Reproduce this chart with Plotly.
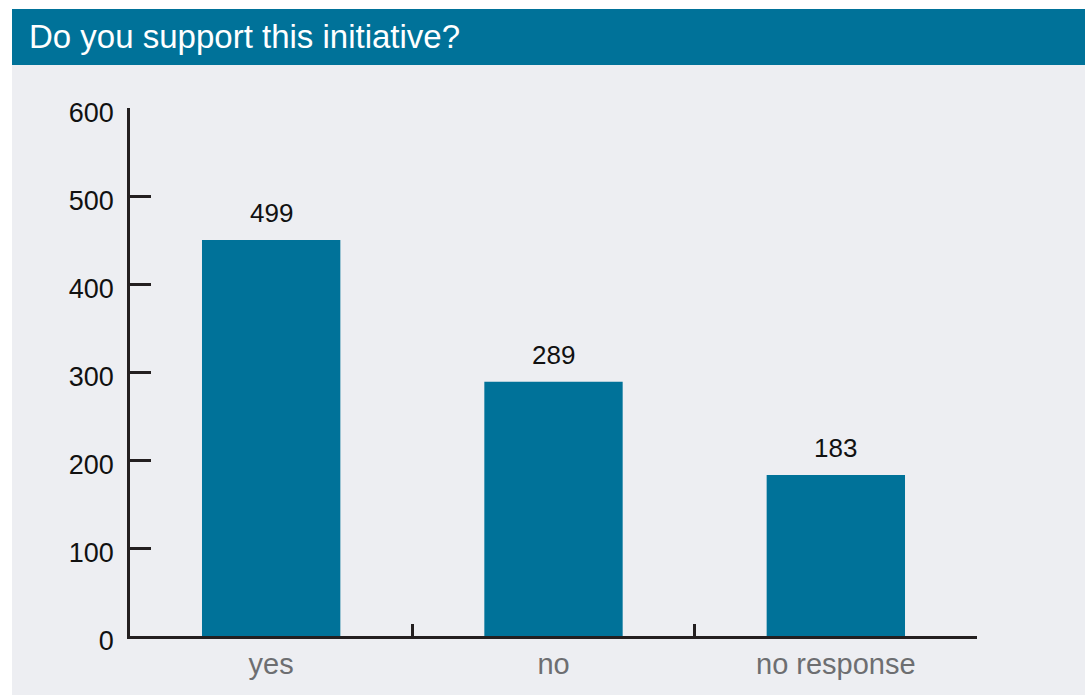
import plotly.graph_objects as go

categories = ["yes", "no", "no response"]
bar_heights = [450, 289, 183]          # heights as drawn in the reference
bar_labels = ["499", "289", "183"]     # value labels printed above the bars
y_ticks = [0, 100, 200, 300, 400, 500, 600]
title_text = "Do you support this initiative?"

BLUE = "#007299"
PANEL = "#EDEEF2"
AXIS = "#231F20"
FONT = "Liberation Sans, Arial, sans-serif"

# figure geometry (pixels)
W, H = 1085, 695
L, R, T, B = 130, 108, 108, 59
pw, ph = W - L - R, H - T - B

def px_x(x):
    return (x - L) / pw

def px_y(y):
    return (H - B - y) / ph

fig = go.Figure()
fig.add_trace(go.Bar(
    x=categories, y=bar_heights, marker=dict(color=BLUE, line=dict(width=0)),
    width=0.49, hoverinfo="skip",
))

for c, v, t in zip(categories, bar_heights, bar_labels):
    fig.add_annotation(x=c, y=v, text=t, showarrow=False, yanchor="bottom",
                       yshift=10, font=dict(family=FONT, size=26, color="#111111"))

# panel background and title bar
fig.add_shape(type="rect", xref="paper", yref="paper", layer="below",
              x0=px_x(12), x1=px_x(1090), y0=px_y(700), y1=px_y(64),
              fillcolor=PANEL, line=dict(width=0))
fig.add_shape(type="rect", xref="paper", yref="paper", layer="below",
              x0=px_x(12), x1=px_x(1090), y0=px_y(65), y1=px_y(9),
              fillcolor=BLUE, line=dict(width=0))
fig.add_annotation(xref="paper", yref="paper", x=px_x(27), y=px_y(37),
                   xanchor="left", yanchor="middle", showarrow=False,
                   text=title_text, font=dict(family=FONT, size=33, color="white"))

fig.update_layout(
    width=W, height=H,
    margin=dict(l=L, r=R, t=T, b=B, pad=0),
    paper_bgcolor="white", plot_bgcolor="rgba(0,0,0,0)",
    showlegend=False, bargap=0.51,
    xaxis=dict(
        range=[-0.5, 2.5], showgrid=False, zeroline=False,
        showline=True, linecolor=AXIS, linewidth=2.5,
        ticks="inside", tickson="boundaries", ticklen=12, tickwidth=2.5, tickcolor=AXIS,
        tickfont=dict(family=FONT, size=29, color="#6D6E71"),
    ),
    yaxis=dict(
        range=[0, 600], tickvals=y_ticks, showgrid=False, zeroline=False,
        showline=True, linecolor=AXIS, linewidth=2.5,
        ticks="inside", ticklen=21, tickwidth=2.5, tickcolor=AXIS,
        tickfont=dict(family=FONT, size=27, color="#111111"),
        ticklabelstandoff=8, ticklabelshift=5,
    ),
)

fig.write_html("out.html")
